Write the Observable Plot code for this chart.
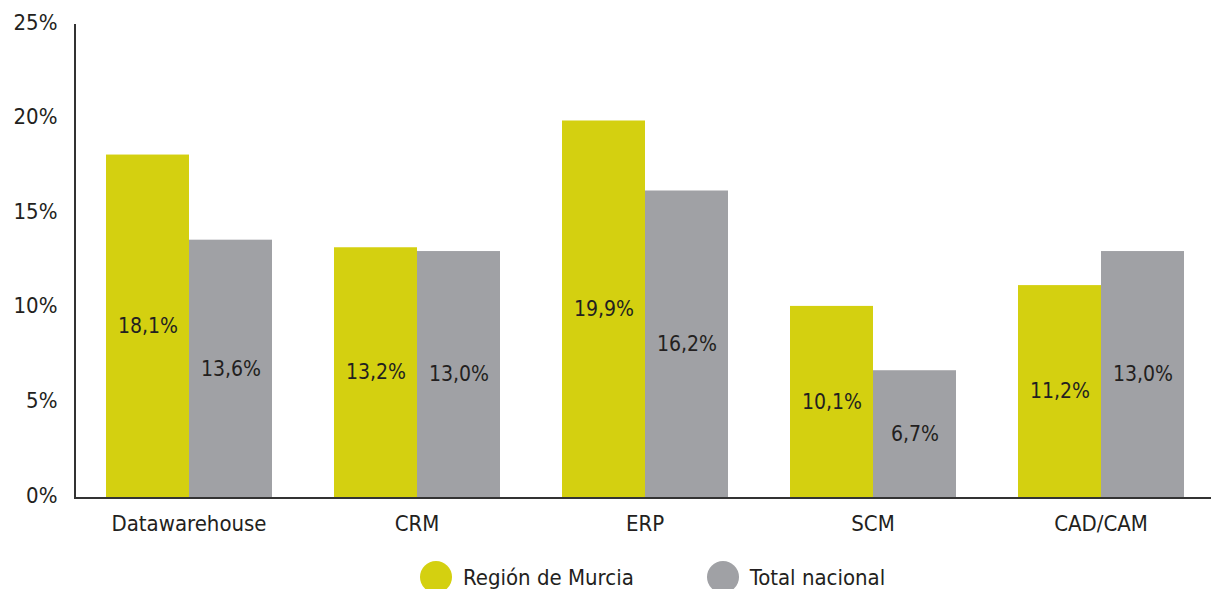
<!DOCTYPE html>
<html><head><meta charset="utf-8">
<script src="https://cdn.jsdelivr.net/npm/d3@7"></script>
<script src="https://cdn.jsdelivr.net/npm/@observablehq/plot@0.6"></script>
<style>
body{margin:0;background:#fff;font-family:"Liberation Sans Narrow","DejaVu Sans Condensed",sans-serif;overflow:hidden;}
#legend{display:flex;align-items:center;padding-left:420px;margin-top:6px;font-size:22px;color:#231f20;}
.item{display:flex;align-items:center;margin-right:73px;}
.sw{width:32px;height:32px;border-radius:50%;margin-right:11px;}
</style></head><body>
<div id="chart"></div>
<div id="legend"></div>
<script>
const categories = ["Datawarehouse","CRM","ERP","SCM","CAD/CAM"];
const series = ["Región de Murcia","Total nacional"];
const murcia = [18.1,13.2,19.9,10.1,11.2];
const nacional = [13.6,13.0,16.2,6.7,13.0];
const yTicks = [0,5,10,15,20,25];
const colors = ["#d4d010","#a0a1a5"];

const data = categories.flatMap((c,i)=>[
  {cat:c, serie:series[0], value:murcia[i]},
  {cat:c, serie:series[1], value:nacional[i]}
]);
const fmt = v => v.toFixed(1).replace(".", ",") + "%";
const font = '"Liberation Sans Narrow","DejaVu Sans Condensed",sans-serif';

const plot = Plot.plot({
  width:1211, height:555,
  marginLeft:75, marginRight:0, marginTop:24, marginBottom:58,
  style:{fontFamily:font, fontSize:"22px", color:"#231f20", background:"#fff"},
  fx:{domain:categories, paddingInner:0.268, paddingOuter:0.115, align:0.53, label:null, axis:null},
  x:{domain:series, padding:0, axis:null},
  y:{domain:[0,25], axis:null},
  color:{domain:series, range:colors},
  marks:[
    Plot.barY(data,{fx:"cat", x:"serie", y:"value", fill:"serie"}),
    Plot.text(data,{fx:"cat", x:"serie", y:d=>d.value/2, text:d=>fmt(d.value), fill:"#231f20", fontSize:21}),
    Plot.axisY({ticks:yTicks, tickFormat:d=>d+"%", tickSize:0, tickPadding:48, label:null, dy:-2, fontSize:22}),
    Plot.axisFx({anchor:"bottom", tickSize:0, tickPadding:18, label:null, fontSize:22})
  ]
});
document.getElementById("chart").appendChild(plot);

const svg = d3.select(plot.tagName.toLowerCase()==="svg" ? plot : plot.querySelector("svg"));
const y = plot.scale("y");
const y0 = y.apply(0), yTop = y.apply(25);
svg.append("line").attr("x1",74).attr("x2",1211).attr("y1",y0+1).attr("y2",y0+1)
  .attr("stroke","#333").attr("stroke-width",2);
svg.append("line").attr("x1",75).attr("x2",75).attr("y1",yTop).attr("y2",y0+1)
  .attr("stroke","#333").attr("stroke-width",2);

const legend = d3.select("#legend");
series.forEach((s,i)=>{
  const it = legend.append("div").attr("class","item");
  it.append("div").attr("class","sw").style("background",colors[i]);
  it.append("span").text(s);
});
</script>
</body></html>
